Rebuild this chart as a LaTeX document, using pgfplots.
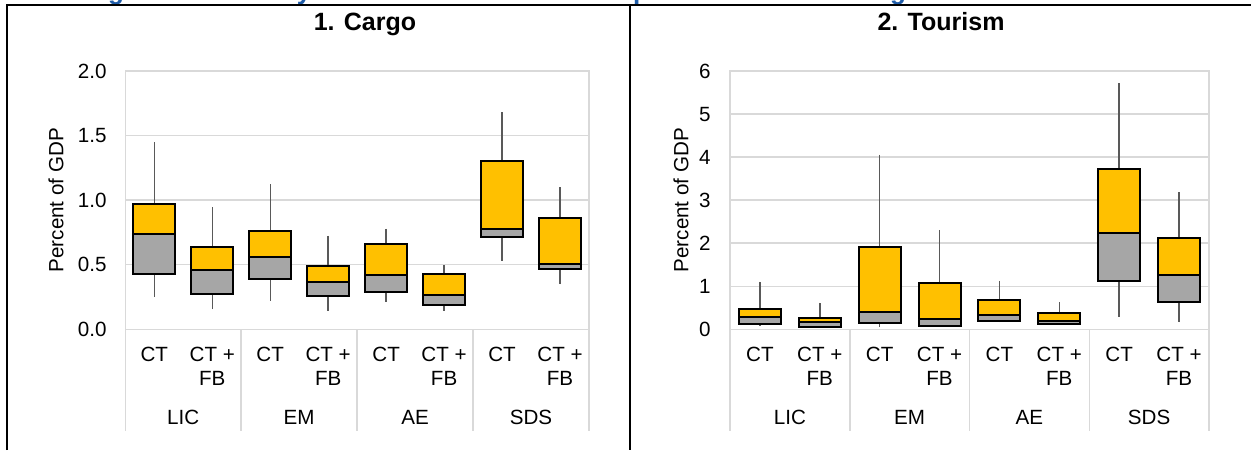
\documentclass[border=0pt]{standalone}
\usepackage{fontspec}
\setmainfont{Liberation Sans}
\usepackage{pgfplots}
\pgfplotsset{compat=1.18}
\usepgfplotslibrary{statistics}
\definecolor{gold}{HTML}{FFC000}
\definecolor{boxgray}{HTML}{A6A6A6}
\definecolor{wgray}{HTML}{595959}
\definecolor{gridgray}{HTML}{D9D9D9}
\definecolor{titleblue}{HTML}{1F5CA8}
\newcommand\lab{\fontsize{10.3}{12.4}\selectfont}
% position, lower whisker, lower quartile, median, upper quartile, upper whisker
\newcommand\bx[6]{%
  \addplot[boxA, boxplot prepared={draw position=#1, lower whisker=#4, lower quartile=#4, median=#4, upper quartile=#5, upper whisker=#6}] coordinates {};
  \addplot[boxB, boxplot prepared={draw position=#1, lower whisker=#2, lower quartile=#3, median=#4, upper quartile=#4, upper whisker=#4}] coordinates {};
}
\pgfplotsset{
  boxA/.style={draw=black, fill=gold, line width=1pt, solid,
    boxplot/every whisker/.style={draw=wgray, line width=0.7pt}},
  boxB/.style={draw=black, fill=boxgray, line width=1pt, solid,
    boxplot/every whisker/.style={draw=wgray, line width=0.7pt}},
  panel/.style={
    scale only axis, anchor=south west,
    xmin=0.5, xmax=8.5, ymin=0,
    xtick={1,...,8},
    xticklabels={CT,CT +,CT,CT +,CT,CT +,CT,CT +},
    xticklabel style={font=\lab, anchor=base, inner sep=0pt, yshift=-16.1pt},
    yticklabel style={font=\lab, anchor=east, inner sep=0pt},
    major tick length=0pt,
    ymajorgrids, grid style={gridgray, line width=0.75pt},
    axis line style={gridgray, line width=0.75pt},
    clip=false,
    boxplot/draw direction=y,
    boxplot/whisker extend=0,
    ylabel={Percent of GDP},
  },
}
\newcommand\lowerlabels{%
  \pgfplotsinvokeforeach{0.5,2.5,4.5,6.5,8.5}{\draw[gridgray, line width=0.75pt] (axis cs:##1,0) -- ++(0pt,-50.85pt);}
  \pgfplotsinvokeforeach{2,4,6,8}{\node[font=\lab, anchor=base, inner sep=0pt, yshift=-28.05pt] at (axis cs:##1,0) {FB};}
  \node[font=\lab, anchor=base, inner sep=0pt, yshift=-47.55pt] at (axis cs:1.5,0) {LIC};
  \node[font=\lab, anchor=base, inner sep=0pt, yshift=-47.55pt] at (axis cs:3.5,0) {EM};
  \node[font=\lab, anchor=base, inner sep=0pt, yshift=-47.55pt] at (axis cs:5.5,0) {AE};
  \node[font=\lab, anchor=base, inner sep=0pt, yshift=-47.55pt] at (axis cs:7.5,0) {SDS};
}
\begin{document}
\begin{tikzpicture}
\useasboundingbox (0,0) rectangle (625.5pt,-225pt);
\begin{scope}[x=0.5pt, y=-0.5pt]
  % cropped figure title above the frame (only descenders visible)
  \begin{scope}
    \clip (0,0) rectangle (1251,3.9);
    \node[font=\bfseries\fontsize{13}{15}\selectfont, text=titleblue, anchor=base, inner sep=0pt] at (116,-0.5) {g};
    \node[font=\bfseries\fontsize{13}{15}\selectfont, text=titleblue, anchor=base, inner sep=0pt] at (304,-0.5) {y};
    \node[font=\bfseries\fontsize{13}{15}\selectfont, text=titleblue, anchor=base, inner sep=0pt] at (641,-0.5) {p};
    \node[font=\bfseries\fontsize{13}{15}\selectfont, text=titleblue, anchor=base, inner sep=0pt] at (898,-0.5) {g};
  \end{scope}
  \draw[line width=1pt] (6.7,450) -- (6.7,4.7) -- (1251,4.7);
  \draw[line width=1pt] (630,4.7) -- (630,450);
  \node[font=\bfseries\fontsize{12.5}{15}\selectfont, anchor=base, inner sep=0pt] at (365,30.7) {1. Cargo};
  \node[font=\bfseries\fontsize{12.5}{15}\selectfont, anchor=base, inner sep=0pt] at (941,30.7) {2. Tourism};
\end{scope}

% ---------- 1. Cargo ----------
\begin{axis}[panel,
  at={(62.65pt,-164.65pt)}, width=231.85pt, height=129.15pt,
  ymax=2, ytick={0,0.5,1,1.5,2}, yticklabels={0.0,0.5,1.0,1.5,2.0},
  yticklabel style={xshift=-9.15pt},
  boxplot/box extend=0.72,
  every axis y label/.style={at={([xshift=-34.65pt]axis description cs:0,0.5)}, rotate=90, anchor=center, font=\lab},
]
\bx{1}{0.25}{0.43}{0.74}{0.97}{1.45}
\bx{2}{0.155}{0.275}{0.463}{0.638}{0.947}
\bx{3}{0.22}{0.39}{0.56}{0.76}{1.125}
\bx{4}{0.145}{0.257}{0.366}{0.494}{0.726}
\bx{5}{0.214}{0.288}{0.417}{0.659}{0.78}
\bx{6}{0.144}{0.19}{0.268}{0.425}{0.497}
\bx{7}{0.53}{0.716}{0.78}{1.302}{1.68}
\bx{8}{0.347}{0.468}{0.507}{0.862}{1.10}
\lowerlabels
\end{axis}

% ---------- 2. Tourism ----------
\begin{axis}[panel,
  at={(365pt,-164.65pt)}, width=239.5pt, height=129.15pt,
  ymax=6, ytick={0,1,2,3,4,5,6}, yticklabels={0,1,2,3,4,5,6},
  yticklabel style={xshift=-9.5pt},
  boxplot/box extend=0.7,
  every axis y label/.style={at={([xshift=-24.5pt]axis description cs:0,0.5)}, rotate=90, anchor=center, font=\lab},
]
\bx{1}{0.077}{0.116}{0.294}{0.464}{1.107}
\bx{2}{0.04}{0.062}{0.163}{0.255}{0.62}
\bx{3}{0.05}{0.155}{0.41}{1.92}{4.06}
\bx{4}{0.05}{0.085}{0.232}{1.08}{2.31}
\bx{5}{0.16}{0.2}{0.34}{0.68}{1.13}
\bx{6}{0.1}{0.116}{0.2}{0.37}{0.63}
\bx{7}{0.286}{1.122}{2.245}{3.73}{5.71}
\bx{8}{0.163}{0.627}{1.254}{2.11}{3.18}
\lowerlabels
\end{axis}
\end{tikzpicture}
\end{document}
